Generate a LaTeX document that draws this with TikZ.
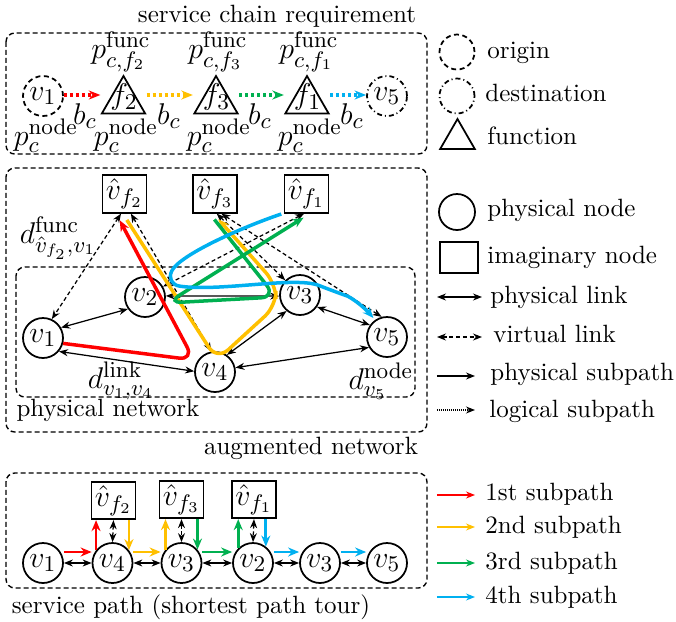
\documentclass[tikz,border=0pt]{standalone}
\usetikzlibrary{arrows.meta,shapes.geometric}
\definecolor{pred}{RGB}{255,0,0}
\definecolor{pyel}{RGB}{255,192,0}
\definecolor{pgrn}{RGB}{0,176,80}
\definecolor{pblu}{RGB}{0,176,240}
\begin{document}
\begin{tikzpicture}[x=0.4pt,y=-0.4pt,
  lab/.style={inner sep=0pt},
  mlab/.style={inner sep=0pt, font=\fontsize{12.4}{15}\selectfont},
  pnode/.style={circle, draw, line width=0.7pt, minimum size=16pt, inner sep=0pt, font=\fontsize{12.4}{15}\selectfont},
  inode/.style={rectangle, draw, line width=0.7pt, minimum width=17.6pt, minimum height=15pt, inner sep=0pt, font=\fontsize{12.4}{15}\selectfont},
  fnode/.style={regular polygon, regular polygon sides=3, draw, line width=0.7pt, minimum size=20pt, inner sep=0pt},
  frame/.style={draw, line width=0.55pt, dash pattern=on 2pt off 1.2pt, rounded corners=3.5pt},
  origdash/.style={dash pattern=on 2pt off 1.4pt},
  destdash/.style={dash pattern=on 2pt off 1.2pt on 0.4pt off 1.2pt},
  plink/.style={line width=0.5pt, {Stealth[length=3.6pt,width=2.8pt]}-{Stealth[length=3.6pt,width=2.8pt]}},
  vlink/.style={plink, dash pattern=on 1.6pt off 1.1pt},
  onelink/.style={line width=0.5pt, -{Stealth[length=3.6pt,width=2.8pt]}},
  subpath/.style={line width=1.4pt, rounded corners=6pt, -{Stealth[length=4.4pt,width=3.6pt]}},
  hop/.style={line width=1.1pt, -{Stealth[length=4.4pt,width=3.6pt]}},
  chain/.style={line width=1.6pt, dash pattern=on 1.2pt off 1.2pt, -{Stealth[length=4.6pt,width=3.6pt]}},
]
\useasboundingbox (0,0) rectangle (676,622);

% ---------------- service chain requirement ----------------
\node[lab] (tchain) at (277,16) {service chain requirement};
\draw[frame] (6,33) rectangle (427,154);

\node[pnode, origdash] (o1) at (43,96) {$v_1$};
\node[fnode] (t2) at (123.5,101) {};
\node[fnode] (t3) at (216,101) {};
\node[fnode] (t1) at (307,101) {};
\node[mlab] (t2l) at (124,97) {$f_2$};
\node[mlab] (t3l) at (216.5,97) {$f_3$};
\node[mlab] (t1l) at (307.5,97) {$f_1$};
\node[pnode, destdash] (d5) at (387,96) {$v_5$};

\coordinate (cy) at (0,95);
\draw[chain, pred] (o1.east |- cy) -- (t2.corner 2 |- cy);
\draw[chain, pyel] (t2.corner 3 |- cy) -- (t3.corner 2 |- cy);
\draw[chain, pgrn] (t3.corner 3 |- cy) -- (t1.corner 2 |- cy);
\draw[chain, pblu] (t1.corner 3 |- cy) -- (d5.west |- cy);

\node[mlab] (bc1) at (85,116) {$b_c$};
\node[mlab] (bc2) at (169,116) {$b_c$};
\node[mlab] (bc3) at (260,116) {$b_c$};
\node[mlab] (bc4) at (352,116) {$b_c$};

\node[mlab] (pf2) at (121,52) {$p^{\mathrm{func}}_{c,f_2}$};
\node[mlab] (pf3) at (218,52) {$p^{\mathrm{func}}_{c,f_3}$};
\node[mlab] (pf1) at (309,52) {$p^{\mathrm{func}}_{c,f_1}$};

\node[mlab] (pn1) at (46,136) {$p^{\mathrm{node}}_{c}$};
\node[mlab] (pn2) at (126,136) {$p^{\mathrm{node}}_{c}$};
\node[mlab] (pn3) at (219,136) {$p^{\mathrm{node}}_{c}$};
\node[mlab] (pn4) at (310,136) {$p^{\mathrm{node}}_{c}$};

% ---------------- augmented network ----------------
\draw[frame] (6,168) rectangle (427,432);
\draw[frame] (16,267) rectangle (415,397);
\node[lab] (taug) at (311,448) {augmented network};
\node[lab] (tphy) at (108,410) {physical network};

\node[inode] (vf2) at (124.5,194) {$\hat{v}_{f_2}$};
\node[inode] (vf3) at (215,194) {$\hat{v}_{f_3}$};
\node[inode] (vf1) at (306.5,194) {$\hat{v}_{f_1}$};

\node[pnode] (v1) at (43,338) {$v_1$};
\node[pnode] (v2) at (145,297) {$v_2$};
\node[pnode] (v3) at (300,295) {$v_3$};
\node[pnode] (v4) at (215,372) {$v_4$};
\node[pnode] (v5) at (387,337) {$v_5$};

% virtual links
\draw[vlink] (vf2.-100) -- (v1.65);
\draw[vlink] (vf2.-72) -- (v4.100);
\draw[vlink] (vf3.-85) -- (v3.135);
\draw[vlink] (vf3.-72) -- (v5.105);
\draw[vlink] (vf1.-97) -- (v2.30);

% physical links
\draw[plink] (v1.30) -- (v2.215);
\draw[plink] (v1.-40) -- (v4.178);
\draw[plink] (v2.3) -- (v3.183);
\draw[plink] (v3.230) -- (v4.55);
\draw[plink] (v3.-35) -- (v5.145);
\draw[plink] (v4.12) -- (v5.210);

\node[mlab] (dfunc) at (58,238) {$d^{\mathrm{func}}_{\hat{v}_{f_2},v_1}$};
\node[mlab] (dlink) at (121,381) {$d^{\mathrm{link}}_{v_1,v_4}$};
\node[mlab] (dnode) at (381,381) {$d^{\mathrm{node}}_{v_5}$};

% subpaths through the augmented network
\draw[subpath, pred, shorten >=3pt] (v1.-15) -- (194,360) -- (vf2.-113);
\draw[subpath, pyel, shorten <=3pt, shorten >=3pt] (vf2.-95) -- (217,360) -- (276,306) -- (276,284) -- (vf3.-95);
\draw[subpath, pgrn, shorten <=3pt, shorten >=3pt] (vf3.-105) -- (276,297) -- (167,303) -- (vf1.-80);
\draw[subpath, pblu, shorten <=1pt, shorten >=1pt] (vf1.-140) .. controls (240,228) and (180,255) .. (165,284)
  .. controls (220,292) and (295,276) .. (333,291) .. controls (350,297) and (362,305) .. (v5.125);

% ---------------- service path ----------------
\draw[frame] (6,473) rectangle (427,588);
\node[lab] (tsp) at (191,607) {service path (shortest path tour)};

\node[inode] (bf2) at (113.5,500.5) {$\hat{v}_{f_2}$};
\node[inode] (bf3) at (181.5,499.5) {$\hat{v}_{f_3}$};
\node[inode] (bf1) at (254,499.5) {$\hat{v}_{f_1}$};

\node[pnode] (b1) at (43,563) {$v_1$};
\node[pnode] (b4) at (112.5,563) {$v_4$};
\node[pnode] (b3) at (181.5,563) {$v_3$};
\node[pnode] (b2) at (253,563) {$v_2$};
\node[pnode] (c3) at (320,563) {$v_3$};
\node[pnode] (b5) at (387,563) {$v_5$};

\draw[plink] (b1) -- (b4);
\draw[plink] (b4) -- (b3);
\draw[plink] (b3) -- (b2);
\draw[plink] (b2) -- (c3);
\draw[plink] (c3) -- (b5);

\draw[vlink] (bf2.south) -- (b4.north);
\draw[vlink] (bf3.south) -- (b3.north);
\draw[vlink] (bf1.south) -- (b2.north);

\draw[hop, pred] ([yshift=4.4pt]b1.east) -- ([yshift=4.4pt]b4.west);
\draw[hop, pyel] ([yshift=4.4pt]b4.east) -- ([yshift=4.4pt]b3.west);
\draw[hop, pgrn] ([yshift=4.4pt]b3.east) -- ([yshift=4.4pt]b2.west);
\draw[hop, pblu] ([yshift=4.4pt]b2.east) -- ([yshift=4.4pt]c3.west);
\draw[hop, pblu] ([yshift=4.4pt]c3.east) -- ([yshift=4.4pt]b5.west);

\draw[hop, pred] (b4.142) -- (b4.142 |- bf2.south);
\draw[hop, pyel] (b4.38 |- bf2.south) -- (b4.38);
\draw[hop, pyel] (b3.140) -- (b3.140 |- bf3.south);
\draw[hop, pgrn] (b3.40 |- bf3.south) -- (b3.40);
\draw[hop, pgrn] (b2.135) -- (b2.135 |- bf1.south);
\draw[hop, pblu] (b2.52 |- bf1.south) -- (b2.52);

% ---------------- legend ----------------
\node[pnode, origdash, minimum size=14pt] (lo) at (457,52) {};
\node[lab, anchor=base west] (llo) at (487,58) {origin};
\node[pnode, destdash, minimum size=14pt] (ld) at (457,96) {};
\node[lab, anchor=base west] (lld) at (485,101.5) {destination};
\node[fnode, minimum size=16pt] (lf) at (457.5,139) {};
\node[lab, anchor=base west] (llf) at (487,144) {function};
\node[pnode, minimum size=14.4pt] (lp) at (457,212) {};
\node[lab, anchor=base west] (llp) at (487,216) {physical node};
\node[inode, minimum width=15.2pt, minimum height=12.4pt] (li) at (459,257.5) {};
\node[lab, anchor=base west] (lli) at (487,263) {imaginary node};

\coordinate (a1) at (437,297); \coordinate (a2) at (482,297);
\draw[plink] (a1) -- (a2);
\node[lab, anchor=base west] (la) at (490,303) {physical link};
\coordinate (b1l) at (437,337); \coordinate (b2l) at (482,337);
\draw[vlink] (b1l) -- (b2l);
\node[lab, anchor=base west] (lb) at (493,342) {virtual link};
\coordinate (c1l) at (437,376); \coordinate (c2l) at (475,376);
\draw[onelink] (c1l) -- (c2l);
\node[lab, anchor=base west] (lc) at (490,380) {physical subpath};
\coordinate (d1l) at (437,410); \coordinate (d2l) at (475,410);
\draw[onelink, dash pattern=on 0.4pt off 0.4pt] (d1l) -- (d2l);
\node[lab, anchor=base west] (ld2) at (489,417) {logical subpath};

\coordinate (e1) at (437,495); \coordinate (e2) at (475,495);
\draw[onelink, pred] (e1) -- (e2);
\node[lab, anchor=base west] (le1) at (485,500) {1st subpath};
\coordinate (f1) at (437,527); \coordinate (f2) at (475,527);
\draw[onelink, pyel] (f1) -- (f2);
\node[lab, anchor=base west] (le2) at (485,533) {2nd subpath};
\coordinate (g1) at (437,563); \coordinate (g2) at (475,563);
\draw[onelink, pgrn] (g1) -- (g2);
\node[lab, anchor=base west] (le3) at (485,569) {3rd subpath};
\coordinate (h1) at (437,597); \coordinate (h2) at (475,597);
\draw[onelink, pblu] (h1) -- (h2);
\node[lab, anchor=base west] (le4) at (485,603) {4th subpath};
\end{tikzpicture}
\end{document}
